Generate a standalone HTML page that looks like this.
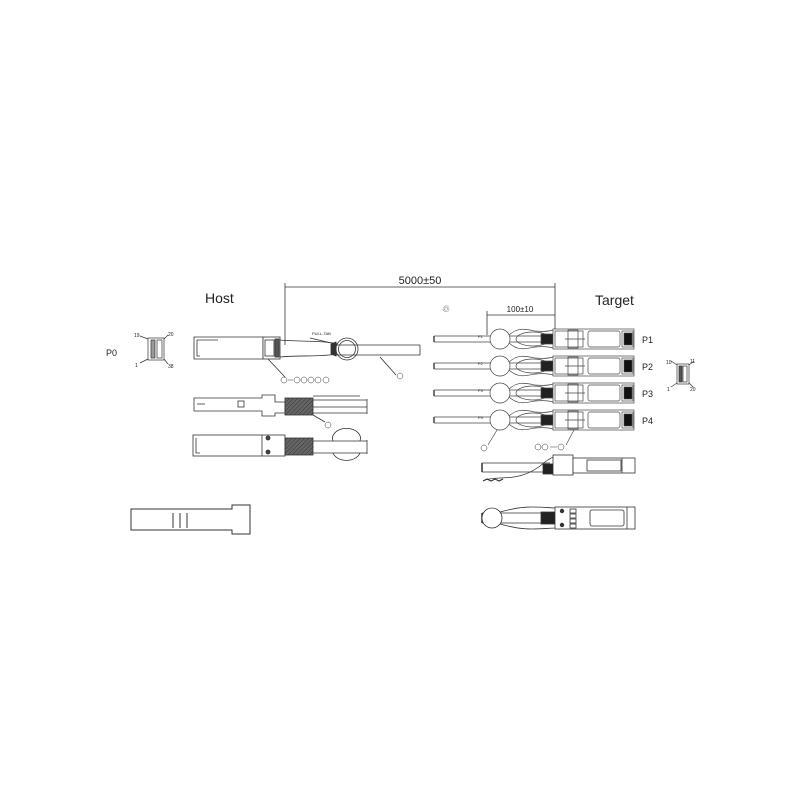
<!DOCTYPE html>
<html><head><meta charset="utf-8"><style>
html,body{margin:0;padding:0;background:#fff;}
svg{display:block;}
text{font-family:"Liberation Sans",sans-serif;fill:#222;}
</style></head><body>
<svg width="800" height="800" viewBox="0 0 800 800" xmlns="http://www.w3.org/2000/svg">
<defs>
<pattern id="h" width="3" height="3" patternUnits="userSpaceOnUse" patternTransform="rotate(45)">
<rect width="3" height="3" fill="#666"/><line x1="0" y1="0" x2="0" y2="3" stroke="#333" stroke-width="1"/>
</pattern>
<g id="row" fill="none" stroke="#444" stroke-width="0.7">
<line x1="434" y1="-3" x2="491" y2="-3"/><line x1="434" y1="3" x2="491" y2="3"/>
<line x1="434" y1="-3" x2="434" y2="3" stroke-width="1.5"/>
<circle cx="500" cy="0" r="10" fill="#fff"/>
<line x1="510" y1="-3" x2="553" y2="-3"/><line x1="510" y1="3" x2="553" y2="3"/>
<path d="M509,-4 C518,-12 525,-10 535,-8 C545,-7 550,-8 553,-9 M509,4 C518,12 525,10 535,8 C545,7 550,8 553,9"/>
<ellipse cx="533" cy="0" rx="17" ry="7"/>
<rect x="541" y="-5" width="12" height="10" fill="#222"/>
<rect x="553" y="-10" width="81" height="20" fill="#fff"/>
<rect x="555" y="-8" width="28" height="16"/>
<rect x="568" y="-9" width="10" height="18"/>
<line x1="565" y1="0" x2="585" y2="0"/>
<rect x="588" y="-8" width="32" height="16" rx="2"/>
<rect x="622" y="-8" width="11" height="16"/>
<rect x="624" y="-6" width="8" height="12" fill="#111"/>
</g>
</defs>

<g stroke="#333" stroke-width="0.8" fill="none">
<line x1="285" y1="287" x2="555" y2="287"/>
<line x1="285" y1="283" x2="285" y2="345"/>
<line x1="555" y1="283" x2="555" y2="330"/>
<line x1="487" y1="315" x2="555" y2="315"/>
<line x1="487" y1="311" x2="487" y2="335"/>
</g>
<text x="420" y="284" font-size="11" text-anchor="middle">5000±50</text>
<text x="520" y="312" font-size="8" text-anchor="middle">100±10</text>
<text x="205" y="303" font-size="14">Host</text>
<text x="595" y="305" font-size="14">Target</text>
<text x="442" y="312" font-size="9">♲</text>

<text x="106" y="356" font-size="9">P0</text>
<g stroke="#333" stroke-width="0.7" fill="none">
<rect x="148" y="338" width="16" height="22"/>
<rect x="151" y="340" width="4" height="18" fill="#999"/>
<rect x="157" y="340" width="5" height="18"/>
<line x1="140" y1="336" x2="148" y2="339"/><line x1="164" y1="339" x2="168" y2="335"/>
<line x1="140" y1="363" x2="148" y2="359"/><line x1="164" y1="359" x2="168" y2="364"/>
</g>
<text x="134" y="337" font-size="5">19</text><text x="168" y="336" font-size="5">20</text>
<text x="135" y="367" font-size="5">1</text><text x="168" y="368" font-size="5">38</text>

<g stroke="#333" stroke-width="0.8" fill="none">
<path d="M194,337 H263 V359 H194 Z"/>
<path d="M197,340 H218 M197,340 V356 H200"/>
<rect x="263" y="337" width="17" height="22" fill="#fff"/>
<rect x="265" y="340" width="9" height="16"/>
<rect x="275" y="339" width="4" height="18" fill="#555"/>
<path d="M280,340 C300,342 320,340 338,344 M280,357 C300,355 320,357 338,354"/>
<path d="M310,338 L340,345"/>
<circle cx="347" cy="349" r="11" fill="#fff"/>
<circle cx="347" cy="349" r="8.5"/>
<line x1="336" y1="345" x2="420" y2="345"/><line x1="336" y1="355" x2="420" y2="355"/>
<line x1="420" y1="345" x2="420" y2="355"/>
<path d="M331,344 L336,342 V356 L331,354 Z" fill="#333"/>
<line x1="268" y1="359" x2="285" y2="377"/>
<line x1="380" y1="357" x2="396" y2="375"/>
</g>
<text x="312" y="335" font-size="4">PULL-TAB</text>
<g fill="none" stroke="#333" stroke-width="0.5">
<circle cx="284" cy="380" r="3"/><circle cx="297" cy="380" r="3"/><circle cx="304" cy="380" r="3"/><circle cx="311" cy="380" r="3"/><circle cx="318" cy="380" r="3"/><circle cx="326" cy="380" r="3"/>
<circle cx="400" cy="376" r="3"/>
<circle cx="328" cy="425" r="3"/>
<circle cx="484" cy="448" r="3"/>
<circle cx="538" cy="447" r="3"/><circle cx="545" cy="447" r="3"/><circle cx="561" cy="447" r="3"/>
</g>
<line x1="288" y1="380" x2="293" y2="380" stroke="#333" stroke-width="0.5"/>
<line x1="550" y1="447" x2="557" y2="447" stroke="#333" stroke-width="0.5"/>

<g stroke="#333" stroke-width="0.8" fill="none">
<path d="M194,398 H262 V395 H275 V402 H285 V413 H275 V416 H262 V411 H194 Z"/>
<line x1="197" y1="404" x2="205" y2="404"/>
<rect x="238" y="401" width="6" height="6"/>
<rect x="285" y="398" width="28" height="17" fill="url(#h)"/>
<line x1="313" y1="400" x2="367" y2="400"/><line x1="313" y1="407" x2="367" y2="407"/><line x1="313" y1="413" x2="367" y2="413"/>
<line x1="313" y1="396" x2="360" y2="396"/>
<line x1="367" y1="399" x2="367" y2="414"/>
<line x1="313" y1="415" x2="325" y2="422"/>
</g>

<g stroke="#333" stroke-width="0.8" fill="none">
<rect x="193" y="435" width="92" height="21" fill="#fff"/>
<path d="M196,438 V453 H200"/>
<line x1="262" y1="435" x2="262" y2="456"/>
<circle cx="268" cy="438" r="2" fill="#444"/><circle cx="268" cy="452" r="2" fill="#444"/>
<rect x="285" y="438" width="28" height="17" fill="url(#h)"/>
<path d="M333,441 A14,10 0 1 1 360,441" />
<path d="M333,453 A14,10 0 0 0 360,453" />
<line x1="313" y1="441" x2="367" y2="441"/><line x1="313" y1="453" x2="367" y2="453"/>
<line x1="367" y1="440" x2="367" y2="454"/>
</g>

<g stroke="#333" stroke-width="1" fill="none">
<path d="M131,509 H232 V505 H250 V534 H232 V530 H131 Z"/>
<line x1="173" y1="513" x2="173" y2="528"/><line x1="180" y1="513" x2="180" y2="528"/><line x1="187" y1="513" x2="187" y2="528"/>
</g>

<use href="#row" transform="translate(0,339)"/>
<use href="#row" transform="translate(0,366)"/>
<use href="#row" transform="translate(0,393)"/>
<use href="#row" transform="translate(0,420)"/>
<g font-size="4"><text x="478" y="338">P1</text><text x="478" y="365">P2</text><text x="478" y="392">P3</text><text x="478" y="419">P4</text></g>
<g font-size="9"><text x="642" y="343">P1</text><text x="642" y="370">P2</text><text x="642" y="397">P3</text><text x="642" y="424">P4</text></g>
<g stroke="#333" stroke-width="0.6" fill="none">
<line x1="488" y1="445" x2="497" y2="430"/>
<line x1="566" y1="445" x2="574" y2="430"/>
</g>

<g stroke="#333" stroke-width="0.7" fill="none">
<rect x="677" y="364" width="12" height="20"/>
<rect x="679" y="366" width="3" height="16" fill="#555"/>
<rect x="683" y="366" width="4" height="16"/>
<line x1="671" y1="361" x2="677" y2="365"/><line x1="689" y1="365" x2="694" y2="361"/>
<line x1="671" y1="387" x2="677" y2="383"/><line x1="689" y1="383" x2="693" y2="387"/>
</g>
<text x="666" y="364" font-size="5">10</text><text x="690" y="363" font-size="5">11</text>
<text x="667" y="391" font-size="5">1</text><text x="690" y="391" font-size="5">20</text>

<g stroke="#333" stroke-width="0.8" fill="none">
<line x1="482" y1="463" x2="550" y2="463"/><line x1="482" y1="472" x2="545" y2="472"/>
<line x1="482" y1="463" x2="482" y2="472" stroke-width="1.5"/>
<path d="M485,480 C500,475 520,484 545,462 C550,458 555,456 560,455" />
<path d="M483,481 l4,-2 l4,2 l4,-2 l4,2 l4,-2" stroke-width="1.2"/>
<rect x="543" y="464" width="12" height="10" fill="#222"/>
<rect x="553" y="455" width="20" height="20" fill="#fff"/>
<rect x="573" y="458" width="62" height="15" fill="#fff"/>
<rect x="587" y="460" width="34" height="11"/>
<line x1="622" y1="458" x2="622" y2="473"/>
</g>

<g stroke="#333" stroke-width="0.8" fill="none">
<line x1="482" y1="513" x2="553" y2="513"/><line x1="482" y1="523" x2="553" y2="523"/>
<line x1="482" y1="513" x2="482" y2="523" stroke-width="1.5"/>
<circle cx="492" cy="518" r="10" fill="#fff"/>
<path d="M500,512 C525,505 535,507 555,508 M500,524 C525,531 535,529 555,528"/>
<rect x="541" y="512" width="14" height="12" fill="#222"/>
<rect x="555" y="507" width="80" height="22" fill="#fff"/>
<circle cx="562" cy="511" r="1.8" fill="#333"/><circle cx="562" cy="525" r="1.8" fill="#333"/>
<rect x="570" y="509" width="6" height="4"/><rect x="570" y="514" width="6" height="4"/><rect x="570" y="519" width="6" height="4"/><rect x="570" y="524" width="6" height="4"/>
<rect x="590" y="510" width="34" height="16" rx="2"/>
<line x1="627" y1="507" x2="627" y2="529"/>
</g>
</svg>
</body></html>
